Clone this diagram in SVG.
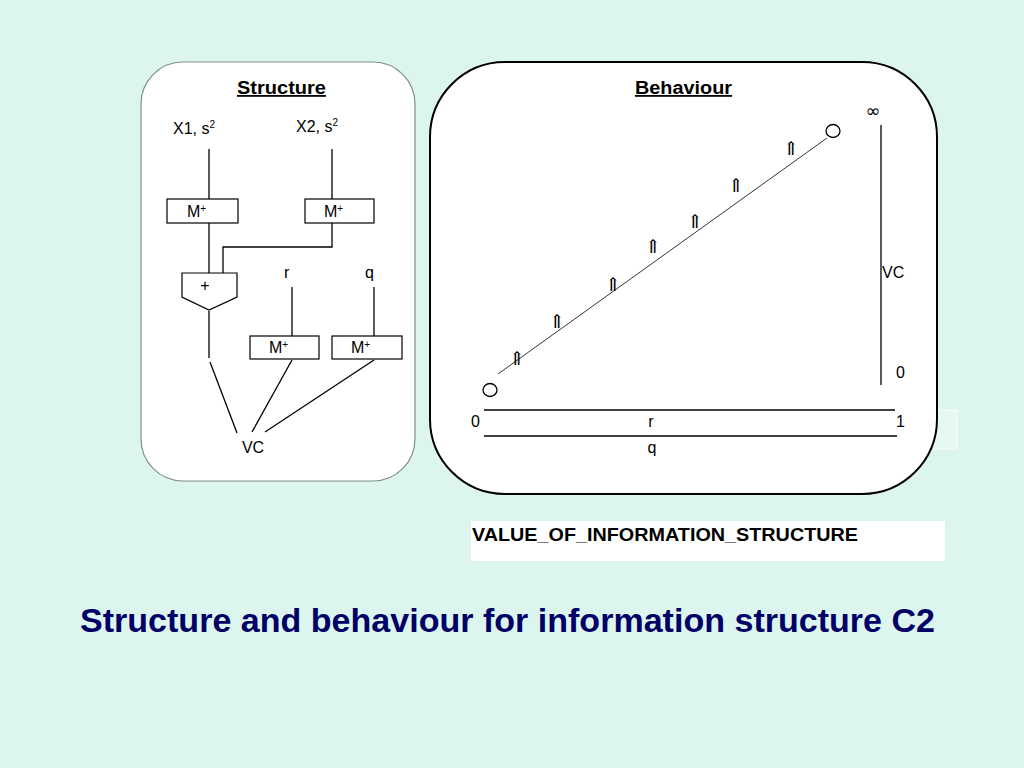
<svg xmlns="http://www.w3.org/2000/svg" width="1024" height="768" viewBox="0 0 1024 768">
<defs>
<style>
.t{font-family:"Liberation Sans",Arial,sans-serif;fill:#000;font-size:16px}
.h{font-family:"Liberation Sans",Arial,sans-serif;font-weight:bold;font-size:18px;text-decoration:underline}
.ln{stroke:#000;stroke-width:1.3;fill:none}
.thin{stroke:#000;stroke-width:0.8;fill:none}
.box{fill:#fff;stroke:#000;stroke-width:1.2}
.sym{font-family:"DejaVu Serif",serif;font-size:19px;fill:#000;text-anchor:middle}
.sup{font-size:10px}
</style>
</defs>
<rect width="1024" height="768" fill="#dcf5ee"/>

<g id="structure-panel">
<rect x="141" y="62" width="274" height="419" rx="42" ry="42" fill="#fff" stroke="#7f8f8b" stroke-width="1.2"/>
<text class="h" x="237" y="94" textLength="89" lengthAdjust="spacingAndGlyphs">Structure</text>
</g>

<g id="behaviour-panel">
<rect x="895" y="410" width="62" height="39" fill="#e6f8f2" stroke="#f4fcf9" stroke-width="1"/>
<rect x="430" y="62" width="507" height="432" rx="75" ry="75" fill="#fff" stroke="#000" stroke-width="2"/>
<text class="h" x="635" y="94" textLength="97" lengthAdjust="spacingAndGlyphs">Behaviour</text>
</g>

<g id="connectors">
<line class="ln" x1="209" y1="149" x2="209" y2="199"/>
<line class="ln" x1="209" y1="223" x2="209" y2="273"/>
<line class="ln" x1="332" y1="149" x2="332" y2="199"/>
<polyline class="ln" points="332,223 332,247 223,247 223,273"/>
<line class="ln" x1="209" y1="311" x2="209" y2="358"/>
<line class="ln" x1="210" y1="362" x2="237" y2="433"/>
<line class="ln" x1="292" y1="287" x2="292" y2="336"/>
<line class="ln" x1="374" y1="287" x2="374" y2="336"/>
<line class="ln" x1="292" y1="360" x2="252" y2="432"/>
<line class="ln" x1="374" y1="360" x2="265" y2="432"/>
<line class="thin" x1="498" y1="374" x2="827" y2="138"/>
<line class="ln" x1="881" y1="125" x2="881" y2="385"/>
<line class="ln" x1="484" y1="410" x2="895" y2="410"/>
<line class="ln" x1="484" y1="436" x2="897" y2="436"/>
</g>

<g id="x1-input"><text class="t" x="173" y="134">X1, s<tspan class="sup" dy="-6">2</tspan></text></g>
<g id="x2-input"><text class="t" x="296" y="132">X2, s<tspan class="sup" dy="-6">2</tspan></text></g>

<g id="mplus-1"><rect class="box" x="167" y="199" width="71" height="24"/><text class="t" x="187" y="217">M<tspan class="sup" dy="-5">+</tspan></text></g>
<g id="mplus-2"><rect class="box" x="305" y="199" width="69" height="24"/><text class="t" x="324" y="217">M<tspan class="sup" dy="-5">+</tspan></text></g>

<g id="plus-node"><polygon class="box" points="182,273 237,273 237,297 209,310 182,297"/><text class="t" x="205" y="291" text-anchor="middle">+</text></g>

<g id="r-input"><text class="t" x="284" y="278">r</text></g>
<g id="q-input"><text class="t" x="365" y="278">q</text></g>

<g id="mplus-3"><rect class="box" x="250" y="336" width="69" height="23"/><text class="t" x="269" y="353">M<tspan class="sup" dy="-5">+</tspan></text></g>
<g id="mplus-4"><rect class="box" x="332" y="336" width="70" height="23"/><text class="t" x="351" y="353">M<tspan class="sup" dy="-5">+</tspan></text></g>

<g id="vc-node"><text class="t" x="253" y="453" text-anchor="middle">VC</text></g>

<g id="behaviour-plot">
<ellipse cx="490" cy="390" rx="7" ry="6.5" fill="none" stroke="#000" stroke-width="1.3"/>
<ellipse cx="833" cy="131" rx="7" ry="6.5" fill="none" stroke="#000" stroke-width="1.3"/>
<text class="sym" x="517" y="365">⇑</text>
<text class="sym" x="557" y="328">⇑</text>
<text class="sym" x="613" y="291">⇑</text>
<text class="sym" x="653" y="253">⇑</text>
<text class="sym" x="695" y="228">⇑</text>
<text class="sym" x="736" y="192">⇑</text>
<text class="sym" x="791" y="155">⇑</text>
<text x="873" y="117" font-family="'DejaVu Sans',sans-serif" font-size="18" fill="#000" text-anchor="middle">∞</text>
<text class="t" x="882" y="278">VC</text>
<text class="t" x="896" y="378">0</text>
<text class="t" x="471" y="427">0</text>
<text class="t" x="651" y="427" text-anchor="middle">r</text>
<text class="t" x="896" y="427">1</text>
<text class="t" x="652" y="453" text-anchor="middle">q</text>
</g>

<g id="label-box">
<rect x="471" y="521" width="474" height="40" fill="#fff"/>
<text x="472" y="541" font-family="'Liberation Sans',Arial,sans-serif" font-weight="bold" font-size="18" fill="#000" textLength="386" lengthAdjust="spacingAndGlyphs">VALUE_OF_INFORMATION_STRUCTURE</text>
</g>

<g id="title">
<text x="80" y="632" font-family="'Liberation Sans',Arial,sans-serif" font-weight="bold" font-size="34" fill="#000066" textLength="855" lengthAdjust="spacingAndGlyphs">Structure and behaviour for information structure C2</text>
</g>
</svg>
